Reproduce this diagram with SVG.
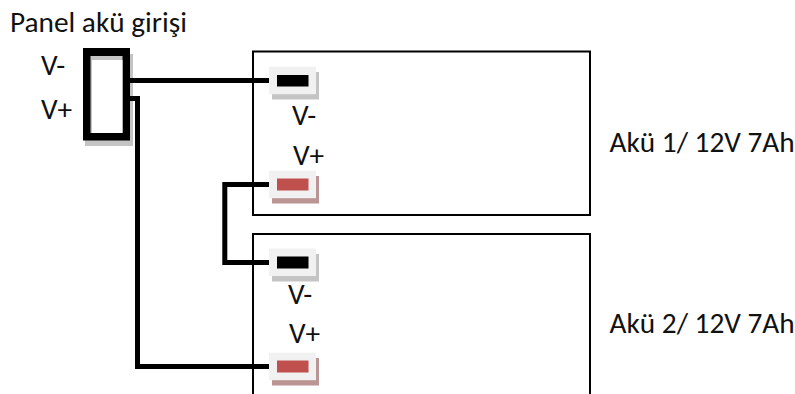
<svg xmlns="http://www.w3.org/2000/svg" width="795" height="394" viewBox="0 0 795 394">
<defs>
<style>
text{font-family:"Carlito","Lato","Liberation Sans",sans-serif;font-size:29.300px;fill:#111}
.bat{fill:#fff;stroke:#000;stroke-width:2}
.wire{fill:none;stroke:#000;stroke-width:5}
.face{fill:#f1f1f1}
.sg{fill:#c4c4c4}
.sr{fill:#bb9494}
</style>
</defs>
<rect width="795" height="394" fill="#fff"/>
<g id="battery-1"><rect class="bat" x="253" y="51.500" width="337" height="163.500"/><text x="609.500" y="152">Akü 1/ 12V 7Ah</text></g>
<g id="battery-2"><path class="bat" d="M253 394V234H590V394"/><text x="609.500" y="332.500">Akü 2/ 12V 7Ah</text></g>
<g id="panel">
<rect x="85" y="60" width="48" height="86" fill="#c4c4c4"/>
<rect x="83" y="48" width="47" height="92.500" fill="#000"/>
<rect x="90.500" y="56" width="32" height="77" fill="#c4c4c4"/>
<rect x="92" y="60" width="30.500" height="73" fill="#fff"/>
<rect x="130" y="54" width="3" height="86" fill="#c4c4c4"/>
<text x="10" y="32">Panel akü girişi</text>
<text x="41" y="75">V-</text>
<text x="41" y="119">V+</text>
</g>
<g id="connectors">
<path class="wire" d="M130 80.500H269"/>
<path class="wire" d="M130 98.500H137.500V366.500H269"/>
<path class="wire" d="M269 184.500H224.800V262.500H269"/>
</g>
<g id="terminal-1-neg"><rect class="sg" x="272" y="72" width="47" height="27.500"/><rect class="face" x="269" y="66.700" width="47" height="27.500"/><rect x="277" y="75" width="31.500" height="11.500" fill="#000"/><text x="292" y="125">V-</text></g>
<g id="terminal-1-pos"><rect class="sr" x="272" y="176" width="47" height="27.500"/><rect class="face" x="269" y="170.700" width="47" height="27.500"/><rect x="277" y="178.500" width="31.500" height="12" fill="#c0504d"/><text x="293" y="165">V+</text></g>
<g id="terminal-2-neg"><rect class="sg" x="272" y="254" width="47" height="27.500"/><rect class="face" x="269" y="248.500" width="47" height="27.500"/><rect x="277" y="256.500" width="31.500" height="12" fill="#000"/><text x="288" y="304">V-</text></g>
<g id="terminal-2-pos"><rect class="sr" x="272" y="358" width="47" height="27.500"/><rect class="face" x="269" y="352.700" width="47" height="27.500"/><rect x="277" y="360.500" width="31.500" height="12" fill="#c0504d"/><text x="289" y="343">V+</text></g>
</svg>
